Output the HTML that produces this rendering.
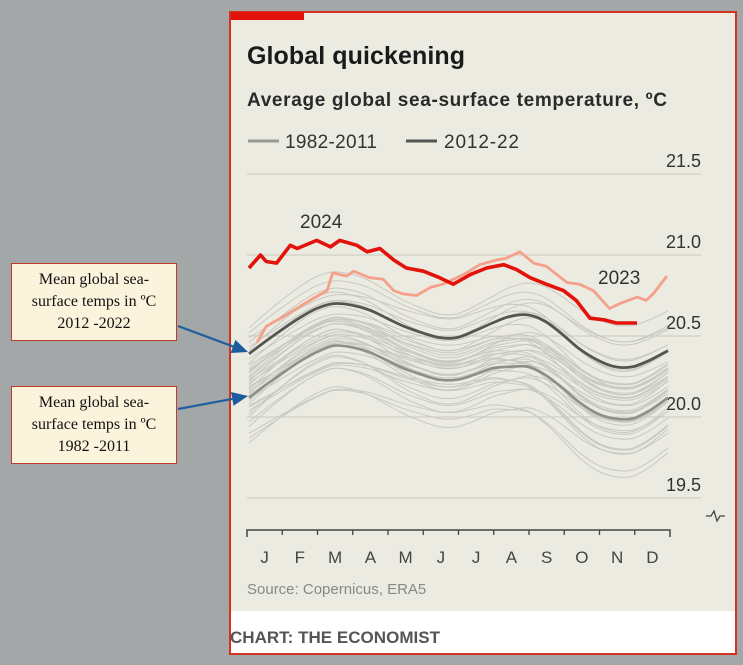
<!DOCTYPE html>
<html><head><meta charset="utf-8"><style>
html,body{margin:0;padding:0;}
body{width:743px;height:665px;background:#a3a7a7;position:relative;overflow:hidden;font-family:"Liberation Sans",sans-serif;}
#panel{position:absolute;left:229px;top:11px;width:504px;height:640px;border:2px solid #d2321f;background:#ecebe2;}
#footer{position:absolute;left:0;top:598px;width:504px;height:42px;background:#fff;}
.box{position:absolute;left:11px;width:164px;height:76px;background:#fcf3dc;border:1.5px solid #c0392b;font-family:"Liberation Serif",serif;font-size:16px;line-height:22px;text-align:center;color:#111;display:flex;align-items:center;justify-content:center;}
svg{position:absolute;left:0;top:0;}
</style></head><body>
<div id="panel"><div id="footer"></div></div>
<div class="box" style="top:263px">Mean global sea-<br>surface temps in ºC<br>2012 -2022</div>
<div class="box" style="top:386px">Mean global sea-<br>surface temps in ºC<br>1982 -2011</div>
<svg id="chart" width="743" height="665"></svg>
<script>
const mDays=[0,15,31,46,59,74,90,105,120,135,151,166,181,196,212,227,243,258,273,288,304,319,334,349,365];
const mean2012=[20.39,20.47,20.55,20.62,20.67,20.70,20.69,20.66,20.61,20.56,20.52,20.49,20.49,20.53,20.58,20.62,20.63,20.59,20.51,20.42,20.35,20.31,20.31,20.35,20.41];
const mean1982=[20.12,20.20,20.28,20.35,20.40,20.44,20.43,20.40,20.35,20.30,20.26,20.23,20.23,20.26,20.30,20.31,20.31,20.26,20.18,20.09,20.02,19.99,19.99,20.04,20.12];
const d2024=[0,10,15,24,36,42,59,71,79,94,103,114,126,137,152,166,178,193,207,222,233,245,259,274,285,297,309,320,332,338];
const t2024=[20.92,21.00,20.96,20.95,21.06,21.04,21.09,21.05,21.09,21.06,21.02,21.04,20.97,20.92,20.90,20.86,20.82,20.88,20.92,20.94,20.91,20.86,20.82,20.78,20.72,20.61,20.60,20.58,20.58,20.58];
const d2023=[7,15,30,53,68,73,85,91,105,117,126,134,146,158,169,187,201,216,224,236,248,259,268,277,288,300,314,323,338,346,352,364];
const t2023=[20.46,20.56,20.62,20.72,20.78,20.89,20.87,20.90,20.86,20.85,20.78,20.76,20.75,20.80,20.82,20.88,20.94,20.97,20.98,21.02,20.95,20.93,20.88,20.83,20.82,20.78,20.67,20.70,20.74,20.72,20.76,20.87];
const offsetsEarly=[-0.28,-0.22,-0.18,-0.25,-0.12,-0.08,-0.15,-0.05,-0.02,0.03,-0.10,0.06,-0.04,0.01,0.08,-0.06,0.10,0.04,-0.01,0.12,0.07,0.15,0.02,0.09,0.18,0.13,0.05,0.20,0.16,0.11];
const tiltEarly=[0.05,-0.10,0.08,-0.05,0.12,-0.08,0.02,-0.12,0.10,-0.03,0.06,-0.07,0.09,-0.02,0.04,-0.09,0.07,0.01,-0.06,0.03,-0.11,0.05,0.08,-0.04,-0.02,0.06,0.10,-0.08,0.02,-0.05];
const offsetsLate=[-0.14,-0.10,-0.06,-0.03,0.00,0.02,0.04,0.07,0.10,0.13,0.16];
const tiltLate=[0.06,-0.05,0.08,-0.07,0.03,0.10,-0.04,0.05,-0.09,0.02,0.07];
const yTicks=[21.5,21.0,20.5,20.0,19.5];
const months=["J","F","M","A","M","J","J","A","S","O","N","D"];

const NS="http://www.w3.org/2000/svg";
const svg=document.getElementById('chart');
const X=d=>249+d*(419/365);
const Y=t=>174+(21.5-t)*162;
function mk(tag,attrs,parent){const e=document.createElementNS(NS,tag);for(const k in attrs)e.setAttribute(k,attrs[k]);(parent||svg).appendChild(e);return e;}
function pathOf(ds,ts){return ds.map((d,i)=>(i?'L':'M')+X(d).toFixed(1)+','+Y(ts[i]).toFixed(1)).join('');}
function smooth(ds,ts){
  const p=ds.map((d,i)=>[X(d),Y(ts[i])]);
  let s='M'+p[0][0].toFixed(1)+','+p[0][1].toFixed(1);
  for(let i=0;i<p.length-1;i++){
    const p0=p[Math.max(0,i-1)],p1=p[i],p2=p[i+1],p3=p[Math.min(p.length-1,i+2)];
    const c1=[p1[0]+(p2[0]-p0[0])/6,p1[1]+(p2[1]-p0[1])/6];
    const c2=[p2[0]-(p3[0]-p1[0])/6,p2[1]-(p3[1]-p1[1])/6];
    s+=` C${c1[0].toFixed(1)},${c1[1].toFixed(1)} ${c2[0].toFixed(1)},${c2[1].toFixed(1)} ${p2[0].toFixed(1)},${p2[1].toFixed(1)}`;
  }
  return s;
}

// header
let e=mk('rect',{x:231,y:12,width:73,height:8,fill:'#e3120b'});


e=mk('text',{x:247,y:64,'font-size':25,'font-weight':'bold',fill:'#1a1a1a','textLength':218});e.textContent='Global quickening';


e=mk('text',{x:247,y:106,'font-size':19,fill:'#2a2a2a','font-weight':'bold','textLength':420});e.textContent='Average global sea-surface temperature, ºC';


// legend
e=mk('line',{x1:248,y1:141,x2:279,y2:141,stroke:'#9a9a95','stroke-width':3});


e=mk('text',{x:285,y:148,'font-size':19,fill:'#333','textLength':92});e.textContent='1982-2011';


e=mk('line',{x1:406,y1:141,x2:437,y2:141,stroke:'#555','stroke-width':3});


e=mk('text',{x:444,y:148,'font-size':19,fill:'#333','textLength':75});e.textContent='2012-22';



// gridlines + y labels
yTicks.forEach(t=>{
  const g=mk('line',{x1:247,x2:701,y1:Y(t),y2:Y(t),stroke:'#c9c8c0','stroke-width':1});
  
  
  const l=mk('text',{x:701,y:Y(t)-7,'text-anchor':'end','font-size':18,fill:'#333'});l.textContent=t.toFixed(1);
  
  
});
e=mk('path',{d:'M706,516 L711,516 L714,511 L717,521 L720,516 L725,516',stroke:'#444',fill:'none','stroke-width':1.3});



// spaghetti
const gl=mk('g',{});


function yearLine(base,off,tilt){
  const ts=base.map((v,i)=>{const f=i/24;return v+off+tilt*(0.5*Math.sin(f*Math.PI*3)+1.2*f*f);});
  const p=mk('path',{d:smooth(mDays,ts),stroke:'#c9c9c3','stroke-width':1,fill:'none'},gl);
  
  
}
offsetsEarly.forEach((o,i)=>yearLine(mean1982,o,tiltEarly[i]));
offsetsLate.forEach((o,i)=>yearLine(mean2012,o,tiltLate[i]));

e=mk('path',{d:smooth(mDays,mean1982),stroke:'#8e8e8a','stroke-width':2.6,fill:'none'});


e=mk('path',{d:smooth(mDays,mean2012),stroke:'#555552','stroke-width':2.8,fill:'none'});


e=mk('path',{d:pathOf(d2023,t2023),stroke:'#f4a08a','stroke-width':2.8,fill:'none','stroke-linejoin':'round'});


e=mk('path',{d:pathOf(d2024,t2024),stroke:'#e3120b','stroke-width':3.6,fill:'none','stroke-linejoin':'round'});


e=mk('text',{x:300,y:228,'font-size':19,fill:'#333'});e.textContent='2024';


e=mk('text',{x:598,y:284,'font-size':19,fill:'#333'});e.textContent='2023';



// x axis
e=mk('path',{d:'M247,537 L247,530 L670,530 L670,537',stroke:'#444',fill:'none','stroke-width':1.5});


for(let i=1;i<12;i++){const x=247+i*(423/12);const t=mk('line',{x1:x,x2:x,y1:530,y2:535,stroke:'#444','stroke-width':1.3});

}
months.forEach((m,i)=>{const t=mk('text',{x:247+(i+0.5)*(423/12),y:563,'text-anchor':'middle','font-size':17,fill:'#444'});t.textContent=m;

});
e=mk('text',{x:247,y:594,'font-size':15,fill:'#888'});e.textContent='Source: Copernicus, ERA5';


e=mk('text',{x:230,y:643,'font-size':17,'font-weight':'bold',fill:'#555','textLength':210});e.textContent='CHART: THE ECONOMIST';



// arrows
function arrow(x1,y1,x2,y2,name){
  const ang=Math.atan2(y2-y1,x2-x1),L=16,W=7;
  const bx=x2-L*Math.cos(ang),by=y2-L*Math.sin(ang);
  const g=mk('g',{});
  
  
  mk('line',{x1,y1,x2:bx,y2:by,stroke:'#1f5f9e','stroke-width':2.2},g);
  mk('polygon',{points:`${x2},${y2} ${bx-W*Math.sin(ang)},${by+W*Math.cos(ang)} ${bx+W*Math.sin(ang)},${by-W*Math.cos(ang)}`,fill:'#1a5c9c'},g);
}
arrow(178,326,248,352,'arrow-2012-2022');
arrow(178,409,248,396,'arrow-1982-2011');
</script>
</body></html>
